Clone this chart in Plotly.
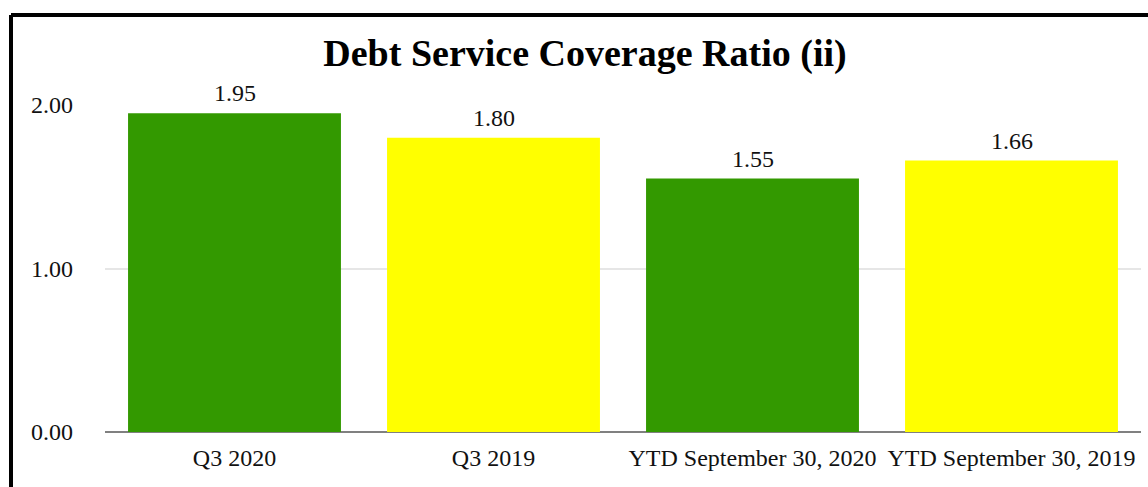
import plotly.graph_objects as go

categories = ["Q3 2020", "Q3 2019", "YTD September 30, 2020", "YTD September 30, 2019"]
values = [1.95, 1.80, 1.55, 1.66]
labels = ["1.95", "1.80", "1.55", "1.66"]
colors = ["#339900", "#FFFF00", "#339900", "#FFFF00"]
yticks = [0, 1, 2]
yticklabels = ["0.00", "1.00", "2.00"]

FONT = "Liberation Serif, Times New Roman, serif"
TXT = "#111111"

fig = go.Figure(go.Bar(
    x=categories, y=values, marker=dict(color=colors, line=dict(width=0)),
    hoverinfo="x+y",
))

for c, v, t in zip(categories, values, labels):
    fig.add_annotation(x=c, y=v, text=t, showarrow=False, yanchor="bottom", yshift=5,
                       font=dict(family=FONT, size=24, color=TXT))

W, H = 1148, 487
L, R, T, B = 105, 7, 105, 55
pw, ph = W - L - R, H - T - B

def px(x):
    return (x - L) / pw

def py(y):
    return (H - B - y) / ph

fig.update_layout(
    width=W, height=H,
    margin=dict(l=L, r=R, t=T, b=B),
    paper_bgcolor="white", plot_bgcolor="white",
    bargap=0.178,
    showlegend=False,
    font=dict(family=FONT, size=24, color=TXT),
    title=dict(text="<b>Debt Service Coverage Ratio (ii)</b>", x=585 / W, xanchor="center",
               y=1 - 53 / H, yanchor="middle", font=dict(family=FONT, size=38, color="black")),
    xaxis=dict(showgrid=False, showline=False, ticks="", tickfont=dict(size=24, color=TXT),
               ticklabelstandoff=9),
    yaxis=dict(range=[0, 2.0], tickvals=yticks, ticktext=yticklabels, showgrid=True,
               gridcolor="#e6e6e6", gridwidth=2, zeroline=True, zerolinecolor="#808080",
               zerolinewidth=2, showline=False, ticks="", ticklabelstandoff=31,
               tickfont=dict(size=24, color=TXT)),
    shapes=[
        dict(type="line", xref="paper", yref="paper", x0=px(11), x1=px(1160), y0=py(15), y1=py(15),
             line=dict(color="black", width=4)),
        dict(type="line", xref="paper", yref="paper", x0=px(11), x1=px(11), y0=py(15), y1=py(500),
             line=dict(color="black", width=4)),
    ],
)

fig.write_html("out.html")
